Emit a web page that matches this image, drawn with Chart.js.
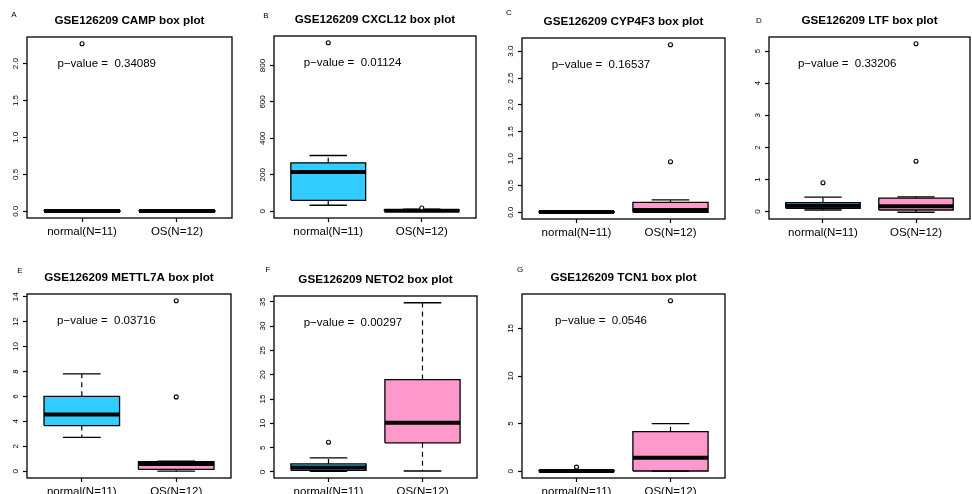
<!DOCTYPE html>
<html>
<head>
<meta charset="utf-8">
<script src="https://cdn.jsdelivr.net/npm/chart.js@4.4.1/dist/chart.umd.min.js"></script>
<style>
  body { margin: 0; background: #fff; width: 972px; height: 494px; overflow: hidden; position: relative; }
  .tag { position: absolute; font: 8px "Liberation Sans", Arial, sans-serif; color: #000; transform: translate(-50%, -50%); }
</style>
</head>
<body>
<script>
// values
const series = "GSE126209";
const genes = ["CAMP", "CXCL12", "CYP4F3", "LTF", "METTL7A", "NETO2", "TCN1"];
const panelTags = ["A", "B", "C", "D", "E", "F", "G"];
const groups = ["normal(N=11)", "OS(N=12)"];
const pValues = ["0.34089", "0.01124", "0.16537", "0.33206", "0.03716", "0.00297", "0.0546"];

// [lower whisker, Q1, median, Q3, upper whisker]
const normalStats = [
  [0, 0, 0.003, 0.008, 0.015],
  [33, 60, 216, 266, 306],
  [0, 0, 0.004, 0.01, 0.02],
  [0.05, 0.105, 0.18, 0.28, 0.45],
  [2.71, 3.66, 4.55, 6.01, 7.80],
  [0.15, 0.35, 0.9, 1.66, 2.9],
  [0, 0, 0.02, 0.06, 0.12]
];
const osStats = [
  [0, 0, 0.003, 0.008, 0.015],
  [0, 1, 3, 7, 12],
  [0, 0, 0.045, 0.185, 0.23],
  [-0.02, 0.05, 0.17, 0.42, 0.46],
  [0, 0.14, 0.58, 0.76, 0.81],
  [0.2, 6.0, 10.1, 19.0, 34.8],
  [0, 0.02, 1.42, 4.15, 5.0]
];
const normalOutliers = [[2.27], [925], [], [0.9], [], [6.1], [0.43]];
const osOutliers = [[], [18], [0.94, 3.12], [1.57, 5.23], [5.96, 13.67], [], [17.9]];

const yTicks = [
  [0, 0.5, 1, 1.5, 2],
  [0, 200, 400, 600, 800],
  [0, 0.5, 1, 1.5, 2, 2.5, 3],
  [0, 1, 2, 3, 4, 5],
  [0, 2, 4, 6, 8, 10, 12, 14],
  [0, 5, 10, 15, 20, 25, 30, 35],
  [0, 5, 10, 15]
];

// layout: plot frame edges [left, top, right, bottom] in page pixels
const frames = [
  [27, 37, 232, 218], [274, 36, 476, 218], [522, 38, 725, 219], [769, 37, 970, 219],
  [27, 294, 231, 478], [274, 296, 477, 478], [522, 294, 725, 478]
];
const tagPos = [[14, 14], [266, 15], [509, 12], [759, 20], [20, 270], [268, 269], [520, 269]];

const FONT = '"Liberation Sans", Arial, sans-serif';
const boxColors = ["#33CCFF", "#FF99CC"];
const SIDE = 40, TITLE_H = 33, X_H = 30;
const HALF_BOX = 0.4, HALF_CAP = 0.2;
const GAP = { x: null, y: null };

// frame, R-style rotated y tick labels and p-value text
const framePlugin = {
  id: "frame",
  afterDraw(chart, args, opts) {
    const { ctx, chartArea: a, scales: { x, y } } = chart;
    ctx.save();
    ctx.strokeStyle = "#000";
    ctx.lineWidth = 1.3;
    ctx.strokeRect(a.left, a.top, a.right - a.left, a.bottom - a.top);
    ctx.fillStyle = "#000";
    ctx.textAlign = "center";
    ctx.textBaseline = "middle";
    ctx.font = `8px ${FONT}`;
    y.ticks.forEach(t => {
      ctx.save();
      ctx.translate(a.left - 11, y.getPixelForValue(t.value));
      ctx.rotate(-Math.PI / 2);
      ctx.fillText(opts.fmt(t.value), 0, 0);
      ctx.restore();
    });
    ctx.font = `11.5px ${FONT}`;
    ctx.fillText("p\u2212value =  " + opts.p, x.getPixelForValue(1.26), y.getPixelForValue(opts.pY));
    ctx.restore();
  }
};

function buildDatasets(i) {
  const stats = [normalStats[i], osStats[i]];
  const outs = [normalOutliers[i], osOutliers[i]];
  const out = [];
  const outline = [], caps = [], whisk = [], meds = [], pts = [];
  stats.forEach((s, g) => {
    const x = g + 1;
    const [lo, q1, md, q3, hi] = s;
    out.push({
      data: [{ x: x - HALF_BOX, y: q3 }, { x: x + HALF_BOX, y: q3 }],
      fill: { value: q1 }, backgroundColor: boxColors[g],
      borderWidth: 0, pointRadius: 0, order: 4
    });
    outline.push({ x: x - HALF_BOX, y: q1 }, { x: x + HALF_BOX, y: q1 }, { x: x + HALF_BOX, y: q3 },
      { x: x - HALF_BOX, y: q3 }, { x: x - HALF_BOX, y: q1 }, GAP);
    caps.push({ x: x - HALF_CAP, y: lo }, { x: x + HALF_CAP, y: lo }, GAP,
      { x: x - HALF_CAP, y: hi }, { x: x + HALF_CAP, y: hi }, GAP);
    whisk.push({ x, y: q3 }, { x, y: hi }, GAP, { x, y: q1 }, { x, y: lo }, GAP);
    meds.push({ x: x - HALF_BOX, y: md }, { x: x + HALF_BOX, y: md }, GAP);
    outs[g].forEach(v => pts.push({ x, y: v }));
  });
  const line = { borderColor: "#000", pointRadius: 0, fill: false, tension: 0 };
  out.push({ ...line, data: whisk, borderWidth: 1.2, borderDash: [5, 4], order: 3 });
  out.push({ ...line, data: caps, borderWidth: 1.3, order: 2 });
  out.push({ ...line, data: outline, borderWidth: 1.3, order: 2 });
  out.push({ ...line, data: meds, borderWidth: 4, borderCapStyle: "butt", order: 1 });
  out.push({
    data: pts, showLine: false, pointStyle: "circle", pointRadius: 2, pointBorderWidth: 1.1,
    pointBorderColor: "#000", pointBackgroundColor: "#fff", order: 0
  });
  return out;
}

genes.forEach((gene, i) => {
  const [L, T, R, B] = frames[i];
  const cv = document.createElement("canvas");
  const w = R - L + 2 * SIDE, h = B - T + TITLE_H + X_H;
  cv.width = w;
  cv.height = h;
  cv.style.cssText = `position:absolute;left:${L - SIDE}px;top:${T - TITLE_H}px;width:${w}px;height:${h}px`;
  document.body.appendChild(cv);

  const tag = document.createElement("div");
  tag.className = "tag";
  tag.textContent = panelTags[i];
  tag.style.left = tagPos[i][0] + "px";
  tag.style.top = tagPos[i][1] + "px";
  document.body.appendChild(tag);

  // R pads both axis ranges by 4%
  const all = [...normalStats[i], ...osStats[i], ...normalOutliers[i], ...osOutliers[i]];
  const lo = Math.min(...all), hi = Math.max(...all), ext = 0.04 * (hi - lo);
  const xExt = 0.04 * groups.length;
  const decimals = yTicks[i].some(v => !Number.isInteger(v)) ? 1 : 0;

  const tickGrid = { drawOnChartArea: false, drawTicks: true, tickLength: 4, tickWidth: 1.2, tickColor: "#000" };

  new Chart(cv, {
    type: "line",
    data: { datasets: buildDatasets(i) },
    plugins: [framePlugin],
    options: {
      responsive: false,
      animation: false,
      events: [],
      spanGaps: false,
      scales: {
        x: {
          type: "linear",
          min: 0.5 - xExt, max: groups.length + 0.5 + xExt,
          afterBuildTicks: s => { s.ticks = groups.map((g, k) => ({ value: k + 1 })); },
          afterFit: s => { s.height = X_H; },
          ticks: { callback: v => groups[v - 1], font: { size: 11.5, family: FONT }, color: "#000", padding: 2.5, maxRotation: 0, autoSkip: false },
          grid: tickGrid,
          border: { display: false }
        },
        y: {
          type: "linear",
          min: lo - ext, max: hi + ext,
          afterBuildTicks: s => { s.ticks = yTicks[i].map(v => ({ value: v })); },
          afterFit: s => { s.width = SIDE; },
          ticks: { display: false },
          grid: tickGrid,
          border: { display: false }
        },
        // empty right-hand spacer so the title centres over the plot frame
        pad: {
          type: "linear",
          position: "right",
          afterFit: s => { s.width = SIDE; },
          ticks: { display: false },
          grid: { display: false },
          border: { display: false }
        }
      },
      plugins: {
        legend: { display: false },
        tooltip: { enabled: false },
        title: {
          display: true,
          text: `${series} ${gene} box plot`,
          color: "#000",
          font: { size: 11.7, weight: "bold", family: FONT, lineHeight: "14px" },
          padding: { top: 10, bottom: 9 }
        },
        frame: { p: pValues[i], pY: 0.88 * hi, fmt: v => v.toFixed(decimals) }
      }
    }
  });
});
</script>
</body>
</html>
